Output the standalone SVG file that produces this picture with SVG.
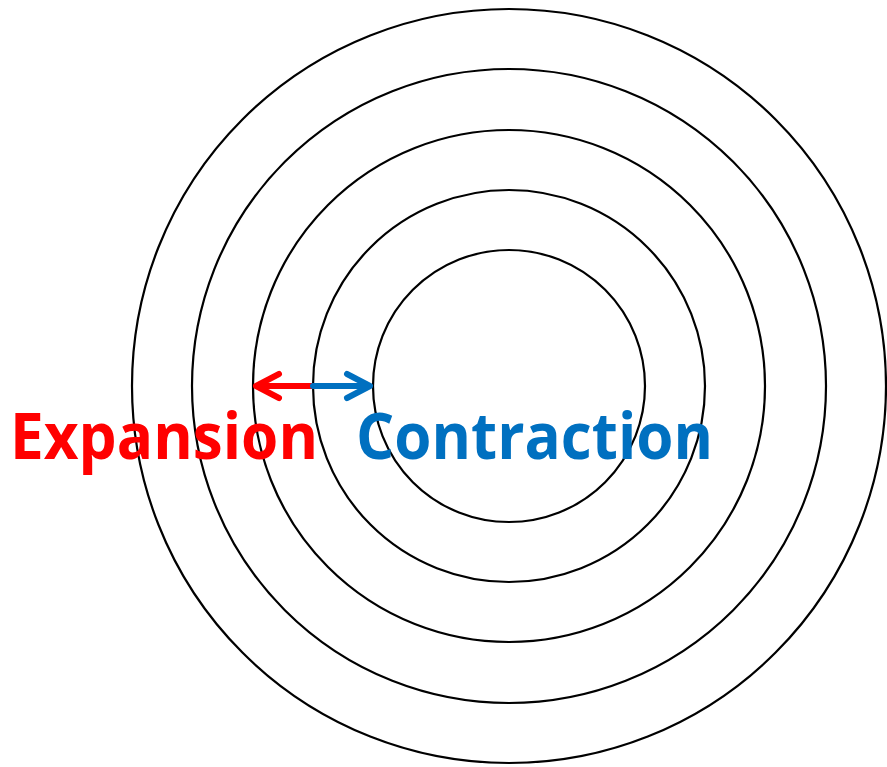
<svg xmlns="http://www.w3.org/2000/svg" width="887" height="767" viewBox="0 0 887 767">
<style>
.ring{fill:none;stroke:#000;stroke-width:2.2}
.arr{fill:none;stroke-width:6;stroke-linecap:round;stroke-linejoin:round}
.lbl{font-family:"Open Sans","Noto Sans","Liberation Sans",sans-serif;font-weight:bold;font-size:64px;font-variant-ligatures:none}
</style>
<rect width="887" height="767" fill="#fff"/>
<g id="rings">
<circle id="ring1" class="ring" cx="509" cy="386" r="136"/>
<circle id="ring2" class="ring" cx="509" cy="386" r="196"/>
<circle id="ring3" class="ring" cx="509" cy="386" r="256"/>
<circle id="ring4" class="ring" cx="509" cy="386" r="317"/>
<circle id="ring5" class="ring" cx="509" cy="386" r="377"/>
</g>
<g id="connectors">
<path class="arr" stroke="#ff0000" d="M313 386 H256 M279 374 L256 386 L279 398"/>
<path class="arr" stroke="#0070c0" d="M313 386 H370 M347 374 L370 386 L347 398"/>
</g>
<g id="expansion">
<text class="lbl" x="10" y="459" fill="#ff0000" textLength="308" lengthAdjust="spacingAndGlyphs">Expansion</text>
</g>
<g id="contraction">
<text class="lbl" x="356" y="459" fill="#0070c0" textLength="357" lengthAdjust="spacingAndGlyphs">Contraction</text>
</g>
</svg>
